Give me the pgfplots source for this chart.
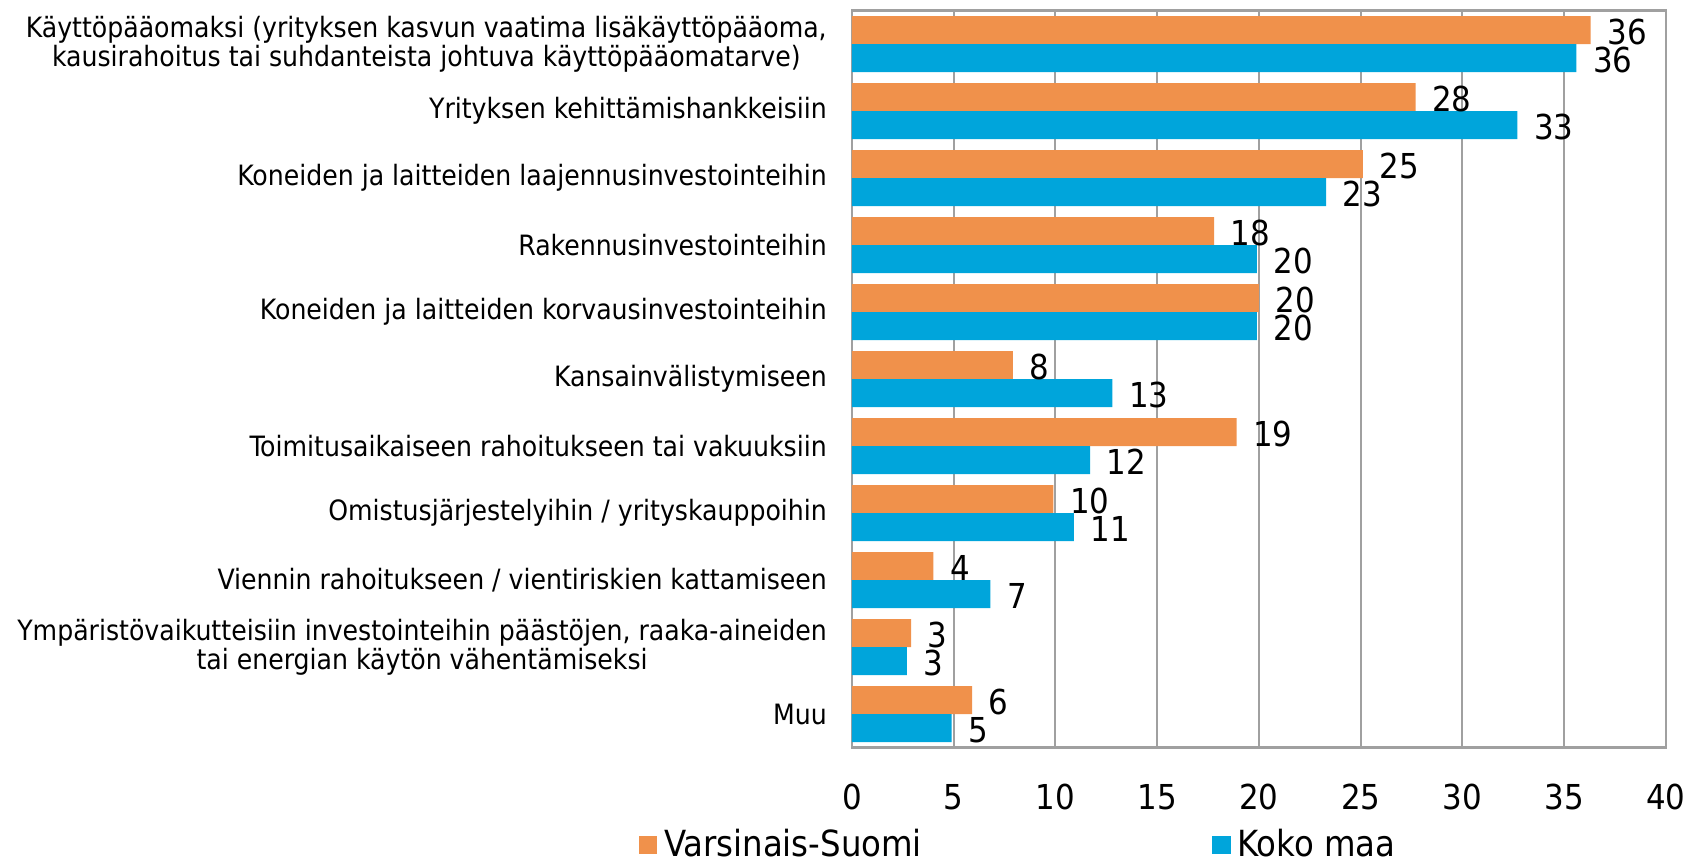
\documentclass[border=0pt]{standalone}
\usepackage{fontspec}
\setmainfont{DejaVu Sans Condensed}
\usepackage{pgfplots}
\pgfplotsset{compat=1.18}
\usepackage{pgfplotstable}
\definecolor{vsorange}{HTML}{F0914B}
\definecolor{kmblue}{HTML}{00A5DB}
\definecolor{gridgray}{HTML}{A0A0A0}
\pgfplotstableread{
y vs km
10 36.3 35.6
9 27.7 32.7
8 25.1 23.3
7 17.8 19.9
6 20.0 19.9
5 7.9 12.8
4 18.9 11.7
3 9.9 10.9
2 4.0 6.8
1 2.9 2.7
0 5.9 4.9
}\datatable
\begin{document}
\begin{tikzpicture}
\begin{axis}[
  at={(0,0)}, anchor=south west,
  xbar, scale only axis,
  width=244.2pt, height=221.1pt,
  xmin=0, xmax=40, ymin=-0.5, ymax=10.5,
  xtick={0,5,...,40},
  ytick={0,1,...,10},
  yticklabels={
    Muu,
    {Ympäristövaikutteisiin investointeihin päästöjen, raaka-aineiden\\tai energian käytön vähentämiseksi},
    {Viennin rahoitukseen / vientiriskien kattamiseen},
    {Omistusjärjestelyihin / yrityskauppoihin},
    {Toimitusaikaiseen rahoitukseen tai vakuuksiin},
    {Kansainvälistymiseen},
    {Koneiden ja laitteiden korvausinvestointeihin},
    {Rakennusinvestointeihin},
    {Koneiden ja laitteiden laajennusinvestointeihin},
    {Yrityksen kehittämishankkeisiin},
    {Käyttöpääomaksi (yrityksen kasvun vaatima lisäkäyttöpääoma,\\kausirahoitus tai suhdanteista johtuva käyttöpääomatarve)}
  },
  major tick length=0pt,
  xmajorgrids,
  grid style={gridgray, line width=0.6pt},
  axis line style={gridgray, line width=0.8pt},
  bar width=8.4pt,
  yticklabel style={align=center, font=\fontsize{8.4}{8.9}\selectfont, xshift=-4pt},
  xticklabel style={font=\fontsize{10.3}{12}\selectfont, yshift=-7.5pt},
  /pgf/number format/assume math mode=true,
  point meta=x,
  nodes near coords={\pgfmathprintnumber[fixed,precision=0]{\pgfplotspointmeta}},
  nodes near coords style={anchor=west, font=\fontsize{10.3}{12}\selectfont, inner sep=0pt, xshift=4.8pt, yshift=-0.6pt},
  legend style={at={(-0.275,-0.132)}, anchor=west, draw=none, fill=none,
    legend columns=2, font=\fontsize{10.8}{12}\selectfont,
    /tikz/every even column/.append style={column sep=85pt}},
]
\addplot[fill=vsorange, draw=none, bar shift=4.2pt,
  legend image code/.code={\fill[vsorange] (0pt,-2.8pt) rectangle (5.6pt,2.8pt);}]
  table[x=vs, y=y]{\datatable};
\addlegendentry{Varsinais-Suomi}
\addplot[fill=kmblue, draw=none, bar shift=-4.2pt,
  legend image code/.code={\fill[kmblue] (0pt,-2.8pt) rectangle (5.6pt,2.8pt);}]
  table[x=km, y=y]{\datatable};
\addlegendentry{Koko maa}
\end{axis}
\pgfresetboundingbox
\path[use as bounding box] (-255.6pt,-35.2pt) rectangle (252.3pt,224.3pt);
\end{tikzpicture}
\end{document}
